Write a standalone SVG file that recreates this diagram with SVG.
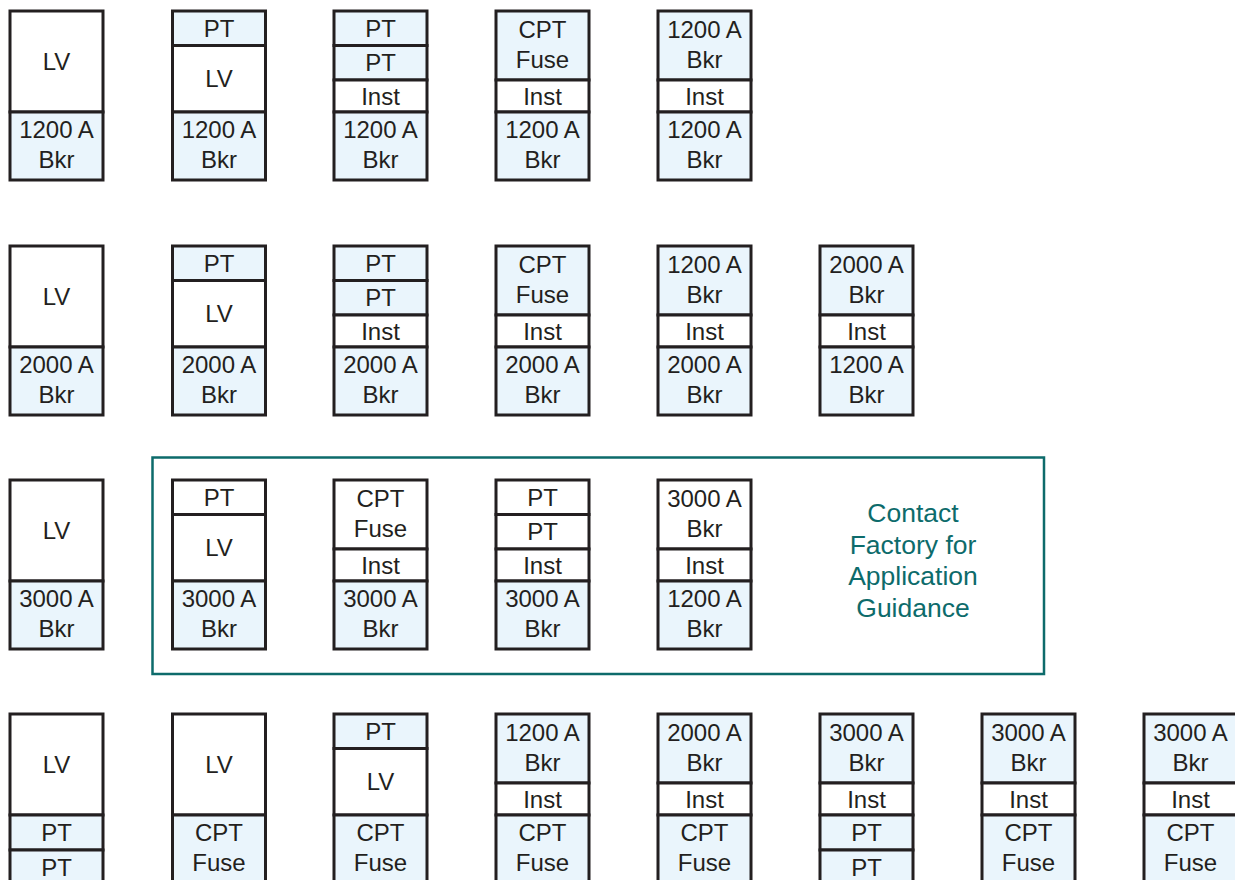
<svg xmlns="http://www.w3.org/2000/svg" width="1235" height="880" viewBox="0 0 1235 880">
<style>
.b{fill:#eaf5fc;stroke:#231f20;stroke-width:3}
.w{fill:#ffffff;stroke:#231f20;stroke-width:3}
text{font-family:"Liberation Sans",Arial,Helvetica,sans-serif;font-size:24px;fill:#231f20;text-anchor:middle}
.teal{fill:#0d6b6b;font-size:26.5px}
</style>
<rect width="1235" height="880" fill="#ffffff"/>
<!-- Row 1 -->
<g id="r1c1"><rect class="w" x="10" y="11" width="93" height="101"/><rect class="b" x="10" y="112" width="93" height="68"/>
<text x="56.5" y="69.5">LV</text><text x="56.5" y="138">1200 A</text><text x="56.5" y="168">Bkr</text></g>
<g id="r1c2"><rect class="b" x="172.5" y="11" width="93" height="34.5"/><rect class="w" x="172.5" y="45.5" width="93" height="66.5"/><rect class="b" x="172.5" y="112" width="93" height="68"/>
<text x="219" y="36.5">PT</text><text x="219" y="87">LV</text><text x="219" y="138">1200 A</text><text x="219" y="168">Bkr</text></g>
<g id="r1c3"><rect class="b" x="334" y="11" width="93" height="34.5"/><rect class="b" x="334" y="45.5" width="93" height="34.5"/><rect class="w" x="334" y="80" width="93" height="32"/><rect class="b" x="334" y="112" width="93" height="68"/>
<text x="380.5" y="36.5">PT</text><text x="380.5" y="71">PT</text><text x="380.5" y="104.5">Inst</text><text x="380.5" y="138">1200 A</text><text x="380.5" y="168">Bkr</text></g>
<g id="r1c4"><rect class="b" x="496" y="11" width="93" height="69"/><rect class="w" x="496" y="80" width="93" height="32"/><rect class="b" x="496" y="112" width="93" height="68"/>
<text x="542.5" y="37.5">CPT</text><text x="542.5" y="67.5">Fuse</text><text x="542.5" y="104.5">Inst</text><text x="542.5" y="138">1200 A</text><text x="542.5" y="168">Bkr</text></g>
<g id="r1c5"><rect class="b" x="658" y="11" width="93" height="69"/><rect class="w" x="658" y="80" width="93" height="32"/><rect class="b" x="658" y="112" width="93" height="68"/>
<text x="704.5" y="37.5">1200 A</text><text x="704.5" y="67.5">Bkr</text><text x="704.5" y="104.5">Inst</text><text x="704.5" y="138">1200 A</text><text x="704.5" y="168">Bkr</text></g>
<!-- Row 2 -->
<g id="r2c1"><rect class="w" x="10" y="246" width="93" height="101"/><rect class="b" x="10" y="347" width="93" height="68"/>
<text x="56.5" y="304.5">LV</text><text x="56.5" y="373">2000 A</text><text x="56.5" y="403">Bkr</text></g>
<g id="r2c2"><rect class="b" x="172.5" y="246" width="93" height="34.5"/><rect class="w" x="172.5" y="280.5" width="93" height="66.5"/><rect class="b" x="172.5" y="347" width="93" height="68"/>
<text x="219" y="271.5">PT</text><text x="219" y="322">LV</text><text x="219" y="373">2000 A</text><text x="219" y="403">Bkr</text></g>
<g id="r2c3"><rect class="b" x="334" y="246" width="93" height="34.5"/><rect class="b" x="334" y="280.5" width="93" height="34.5"/><rect class="w" x="334" y="315" width="93" height="32"/><rect class="b" x="334" y="347" width="93" height="68"/>
<text x="380.5" y="271.5">PT</text><text x="380.5" y="306">PT</text><text x="380.5" y="339.5">Inst</text><text x="380.5" y="373">2000 A</text><text x="380.5" y="403">Bkr</text></g>
<g id="r2c4"><rect class="b" x="496" y="246" width="93" height="69"/><rect class="w" x="496" y="315" width="93" height="32"/><rect class="b" x="496" y="347" width="93" height="68"/>
<text x="542.5" y="272.5">CPT</text><text x="542.5" y="302.5">Fuse</text><text x="542.5" y="339.5">Inst</text><text x="542.5" y="373">2000 A</text><text x="542.5" y="403">Bkr</text></g>
<g id="r2c5"><rect class="b" x="658" y="246" width="93" height="69"/><rect class="w" x="658" y="315" width="93" height="32"/><rect class="b" x="658" y="347" width="93" height="68"/>
<text x="704.5" y="272.5">1200 A</text><text x="704.5" y="302.5">Bkr</text><text x="704.5" y="339.5">Inst</text><text x="704.5" y="373">2000 A</text><text x="704.5" y="403">Bkr</text></g>
<g id="r2c6"><rect class="b" x="820" y="246" width="93" height="69"/><rect class="w" x="820" y="315" width="93" height="32"/><rect class="b" x="820" y="347" width="93" height="68"/>
<text x="866.5" y="272.5">2000 A</text><text x="866.5" y="302.5">Bkr</text><text x="866.5" y="339.5">Inst</text><text x="866.5" y="373">1200 A</text><text x="866.5" y="403">Bkr</text></g>
<!-- Row 3 -->
<g id="r3c1"><rect class="w" x="10" y="480" width="93" height="101"/><rect class="b" x="10" y="581" width="93" height="68"/>
<text x="56.5" y="538.5">LV</text><text x="56.5" y="607">3000 A</text><text x="56.5" y="637">Bkr</text></g>
<g id="guidance"><rect x="152.5" y="457.5" width="891.5" height="216.5" fill="none" stroke="#0d6b6b" stroke-width="2.5"/>
<text class="teal" x="913" y="522">Contact</text><text class="teal" x="913" y="553.5">Factory for</text><text class="teal" x="913" y="585">Application</text><text class="teal" x="913" y="616.5">Guidance</text></g>
<g id="r3c2"><rect class="w" x="172.5" y="480" width="93" height="34.5"/><rect class="w" x="172.5" y="514.5" width="93" height="66.5"/><rect class="b" x="172.5" y="581" width="93" height="68"/>
<text x="219" y="505.5">PT</text><text x="219" y="556">LV</text><text x="219" y="607">3000 A</text><text x="219" y="637">Bkr</text></g>
<g id="r3c3"><rect class="w" x="334" y="480" width="93" height="69"/><rect class="w" x="334" y="549" width="93" height="32"/><rect class="b" x="334" y="581" width="93" height="68"/>
<text x="380.5" y="506.5">CPT</text><text x="380.5" y="536.5">Fuse</text><text x="380.5" y="573.5">Inst</text><text x="380.5" y="607">3000 A</text><text x="380.5" y="637">Bkr</text></g>
<g id="r3c4"><rect class="w" x="496" y="480" width="93" height="34.5"/><rect class="w" x="496" y="514.5" width="93" height="34.5"/><rect class="w" x="496" y="549" width="93" height="32"/><rect class="b" x="496" y="581" width="93" height="68"/>
<text x="542.5" y="505.5">PT</text><text x="542.5" y="540">PT</text><text x="542.5" y="573.5">Inst</text><text x="542.5" y="607">3000 A</text><text x="542.5" y="637">Bkr</text></g>
<g id="r3c5"><rect class="w" x="658" y="480" width="93" height="69"/><rect class="w" x="658" y="549" width="93" height="32"/><rect class="b" x="658" y="581" width="93" height="68"/>
<text x="704.5" y="506.5">3000 A</text><text x="704.5" y="536.5">Bkr</text><text x="704.5" y="573.5">Inst</text><text x="704.5" y="607">1200 A</text><text x="704.5" y="637">Bkr</text></g>
<!-- Row 4 -->
<g id="r4c1"><rect class="w" x="10" y="714" width="93" height="101"/><rect class="b" x="10" y="815" width="93" height="35"/><rect class="b" x="10" y="850" width="93" height="35"/>
<text x="56.5" y="772.5">LV</text><text x="56.5" y="841">PT</text><text x="56.5" y="876">PT</text></g>
<g id="r4c2"><rect class="w" x="172.5" y="714" width="93" height="101"/><rect class="b" x="172.5" y="815" width="93" height="70"/>
<text x="219" y="772.5">LV</text><text x="219" y="841">CPT</text><text x="219" y="871">Fuse</text></g>
<g id="r4c3"><rect class="b" x="334" y="714" width="93" height="34.5"/><rect class="w" x="334" y="748.5" width="93" height="66.5"/><rect class="b" x="334" y="815" width="93" height="70"/>
<text x="380.5" y="739.5">PT</text><text x="380.5" y="790">LV</text><text x="380.5" y="841">CPT</text><text x="380.5" y="871">Fuse</text></g>
<g id="r4c4"><rect class="b" x="496" y="714" width="93" height="69"/><rect class="w" x="496" y="783" width="93" height="32"/><rect class="b" x="496" y="815" width="93" height="70"/>
<text x="542.5" y="740.5">1200 A</text><text x="542.5" y="770.5">Bkr</text><text x="542.5" y="807.5">Inst</text><text x="542.5" y="841">CPT</text><text x="542.5" y="871">Fuse</text></g>
<g id="r4c5"><rect class="b" x="658" y="714" width="93" height="69"/><rect class="w" x="658" y="783" width="93" height="32"/><rect class="b" x="658" y="815" width="93" height="70"/>
<text x="704.5" y="740.5">2000 A</text><text x="704.5" y="770.5">Bkr</text><text x="704.5" y="807.5">Inst</text><text x="704.5" y="841">CPT</text><text x="704.5" y="871">Fuse</text></g>
<g id="r4c6"><rect class="b" x="820" y="714" width="93" height="69"/><rect class="w" x="820" y="783" width="93" height="32"/><rect class="b" x="820" y="815" width="93" height="35"/><rect class="b" x="820" y="850" width="93" height="35"/>
<text x="866.5" y="740.5">3000 A</text><text x="866.5" y="770.5">Bkr</text><text x="866.5" y="807.5">Inst</text><text x="866.5" y="841">PT</text><text x="866.5" y="876">PT</text></g>
<g id="r4c7"><rect class="b" x="982" y="714" width="93" height="69"/><rect class="w" x="982" y="783" width="93" height="32"/><rect class="b" x="982" y="815" width="93" height="70"/>
<text x="1028.5" y="740.5">3000 A</text><text x="1028.5" y="770.5">Bkr</text><text x="1028.5" y="807.5">Inst</text><text x="1028.5" y="841">CPT</text><text x="1028.5" y="871">Fuse</text></g>
<g id="r4c8"><rect class="b" x="1144" y="714" width="93" height="69"/><rect class="w" x="1144" y="783" width="93" height="32"/><rect class="b" x="1144" y="815" width="93" height="70"/>
<text x="1190.5" y="740.5">3000 A</text><text x="1190.5" y="770.5">Bkr</text><text x="1190.5" y="807.5">Inst</text><text x="1190.5" y="841">CPT</text><text x="1190.5" y="871">Fuse</text></g>
<g id="connectors"></g>
</svg>
